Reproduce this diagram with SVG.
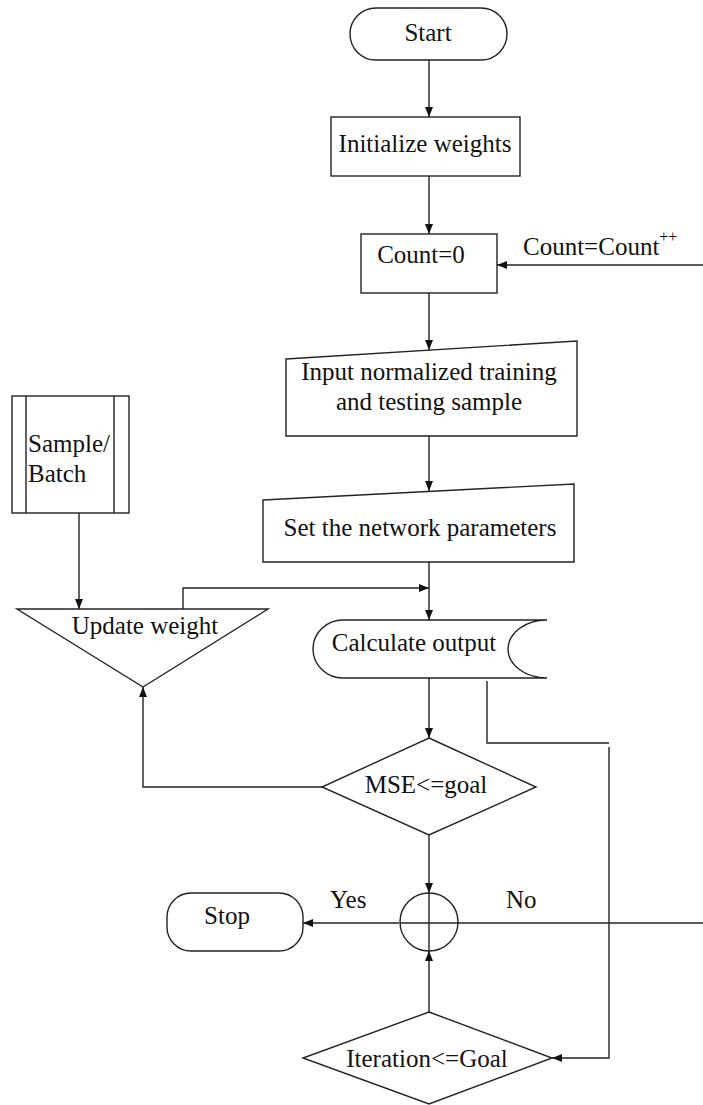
<svg xmlns="http://www.w3.org/2000/svg" width="703" height="1105" viewBox="0 0 703 1105">
  <style>
    .shape { fill: #fff; stroke: #222; stroke-width: 1.4; }
    .line { fill: none; stroke: #222; stroke-width: 1.4; }
    .lbl { font-family: "Liberation Serif", "Times New Roman", serif; font-size: 25px; fill: #111; }
    .sup { font-size: 16px; }
    .mid { text-anchor: middle; }
  </style>
  <defs>
    <marker id="arrow" viewBox="0 0 10 8" refX="10" refY="4" markerWidth="10" markerHeight="8" markerUnits="userSpaceOnUse" orient="auto">
      <path d="M0,0 L10,4 L0,8 z" fill="#111"/>
    </marker>
  </defs>
  <rect width="703" height="1105" fill="#fff"/>

  <!-- connectors -->
  <g id="connectors">
    <line class="line" x1="429" y1="60" x2="429" y2="117" marker-end="url(#arrow)"/>
    <line class="line" x1="429" y1="176" x2="429" y2="234" marker-end="url(#arrow)"/>
    <line class="line" x1="703" y1="265" x2="497" y2="265" marker-end="url(#arrow)"/>
    <line class="line" x1="429" y1="293" x2="429" y2="350" marker-end="url(#arrow)"/>
    <line class="line" x1="429" y1="436" x2="429" y2="491" marker-end="url(#arrow)"/>
    <line class="line" x1="429" y1="562" x2="429" y2="620" marker-end="url(#arrow)"/>
    <polyline class="line" points="183,609 183,588 429,588" marker-end="url(#arrow)"/>
    <line class="line" x1="79" y1="513" x2="79" y2="609" marker-end="url(#arrow)"/>
    <line class="line" x1="429" y1="678" x2="429" y2="738" marker-end="url(#arrow)"/>
    <polyline class="line" points="322,787 143,787 143,687" marker-end="url(#arrow)"/>
    <polyline class="line" points="487,681 487,743 609,743"/>
    <polyline class="line" points="609,747 609,1058 552,1058" marker-end="url(#arrow)"/>
    <line class="line" x1="429" y1="835" x2="429" y2="893" marker-end="url(#arrow)"/>
    <line class="line" x1="429" y1="1012" x2="429" y2="951" marker-end="url(#arrow)"/>
    <line class="line" x1="399" y1="923" x2="303" y2="923" marker-end="url(#arrow)"/>
    <line class="line" x1="457" y1="923" x2="703" y2="923"/>
    <text class="lbl" x="523" y="255">Count=Count<tspan class="sup" dy="-13">++</tspan></text>
    <text class="lbl" x="330" y="908">Yes</text>
    <text class="lbl" x="506" y="908">No</text>
  </g>

  <g id="start">
    <rect class="shape" x="350" y="8" width="157" height="52" rx="26" ry="26"/>
    <text class="lbl mid" x="428" y="41">Start</text>
  </g>

  <g id="init-weights">
    <rect class="shape" x="331" y="117" width="189" height="59"/>
    <text class="lbl mid" x="425" y="152">Initialize weights</text>
  </g>

  <g id="count-zero">
    <rect class="shape" x="361" y="234" width="136" height="59"/>
    <text class="lbl mid" x="421" y="263">Count=0</text>
  </g>

  <g id="input-samples">
    <polygon class="shape" points="286,359 577,341 577,436 286,436"/>
    <text class="lbl mid" x="429" y="380">Input normalized training</text>
    <text class="lbl mid" x="429" y="410">and testing sample</text>
  </g>

  <g id="set-params">
    <polygon class="shape" points="263,500 574,484 574,562 263,562"/>
    <text class="lbl mid" x="420" y="536">Set the network parameters</text>
  </g>

  <g id="sample-batch">
    <rect class="shape" x="12" y="396" width="117" height="117"/>
    <line class="line" x1="26" y1="396" x2="26" y2="513"/>
    <line class="line" x1="114" y1="396" x2="114" y2="513"/>
    <text class="lbl" x="28" y="452">Sample/</text>
    <text class="lbl" x="28" y="482">Batch</text>
  </g>

  <g id="update-weight">
    <polygon class="shape" points="17,609 268,609 143,687"/>
    <text class="lbl mid" x="145" y="634">Update weight</text>
  </g>

  <g id="calc-output">
    <path class="shape" d="M343,620 L547,620 A39,29 0 0 0 547,678 L343,678 A30,29 0 0 1 343,620 Z"/>
    <text class="lbl mid" x="414" y="651">Calculate output</text>
  </g>

  <g id="mse-check">
    <polygon class="shape" points="429,738 536,787 429,835 322,787"/>
    <text class="lbl mid" x="426" y="793">MSE&lt;=goal</text>
  </g>

  <g id="junction">
    <circle class="shape" cx="429" cy="922" r="29"/>
    <line class="line" x1="429" y1="893" x2="429" y2="951"/>
    <line class="line" x1="400" y1="923" x2="458" y2="923"/>
  </g>

  <g id="stop">
    <rect class="shape" x="167" y="893" width="136" height="58" rx="24" ry="24"/>
    <text class="lbl mid" x="227" y="924">Stop</text>
  </g>

  <g id="iteration-check">
    <polygon class="shape" points="429,1012 552,1058 429,1104 303,1058"/>
    <text class="lbl mid" x="427" y="1067">Iteration&lt;=Goal</text>
  </g>
</svg>
